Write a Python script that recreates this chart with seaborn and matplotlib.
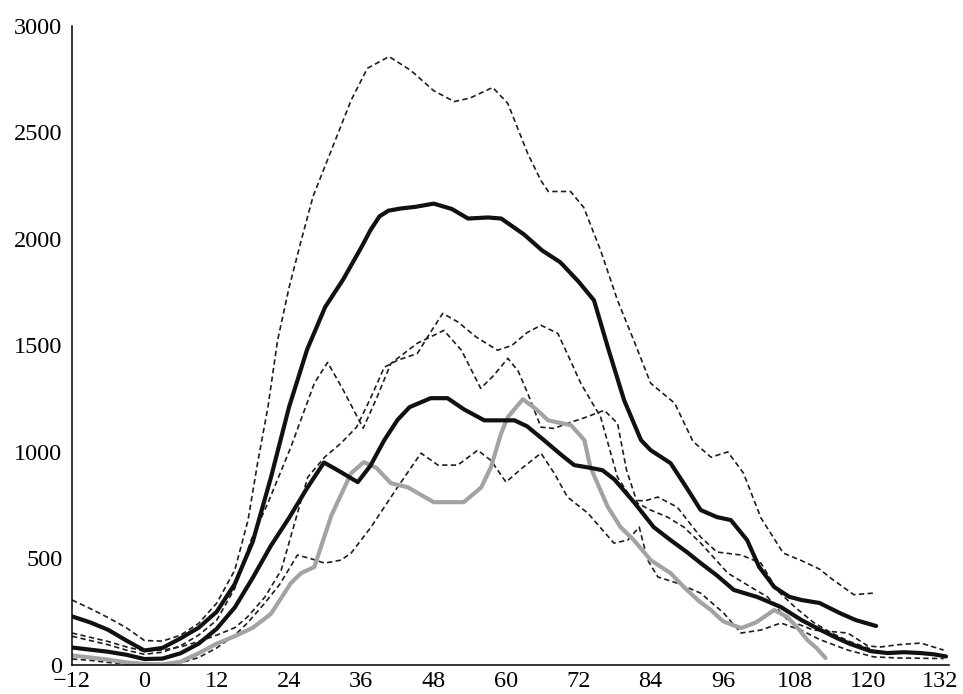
import matplotlib
matplotlib.use("Agg")
import matplotlib.pyplot as plt
import seaborn as sns

# ---- data ----
# big curve: upper band (dashed), mean (thick black), lower band (dashed)
big_upper_x = [-12, -9, -6, -3, 0, 3, 6, 9, 12, 15, 17.2, 18.8, 20.5, 22.1, 24, 26, 28, 31,
               34.3, 37, 40.6, 44.2, 48, 51.4, 54, 57.8, 60.3, 63.6, 65.8, 67, 70.7, 72.9,
               75.7, 78.5, 81.2, 84, 88, 91, 94, 96.8, 99.4, 102.3, 106, 109, 112, 114,
               117.7, 121.3]
big_upper_y = [305, 265, 222, 175, 115, 112, 140, 195, 290, 445, 680, 950, 1210, 1523, 1770,
               1990, 2200, 2414, 2650, 2800, 2855, 2790, 2695, 2644, 2660, 2710, 2635, 2400,
               2273, 2222, 2222, 2147, 1945, 1711, 1523, 1322, 1228, 1050, 975, 1000, 900,
               690, 525, 490, 450, 405, 330, 338]

big_mean_x = [-12, -9, -6, -3, 0, 3, 6, 9, 12, 15, 18, 21, 24, 27, 30, 33, 36, 37.5, 39, 40.5,
              42.5, 45, 48, 51, 53.7, 57, 59.2, 63, 66, 69, 72, 74.6, 76.9, 79.6, 82.4, 84,
              87.3, 90, 92.3, 95, 97.3, 100, 102, 104.5, 107, 109, 112, 115.5, 118, 121.4]
big_mean_y = [228, 200, 165, 115, 68, 80, 125, 175, 250, 380, 580, 880, 1210, 1480, 1680,
              1810, 1960, 2040, 2105, 2132, 2142, 2150, 2165, 2140, 2095, 2100, 2095, 2020,
              1945, 1890, 1800, 1711, 1490, 1242, 1055, 1008, 947, 830, 727, 694, 680, 586,
              460, 366, 320, 305, 291, 242, 211, 183]

big_lower_x = [-12, -9, -6, -3, 0, 3, 6, 9, 12, 15, 17.1, 20, 22.7, 25.4, 27.1, 29.9, 32.6,
               35.2, 37.5, 39.8, 42, 45.3, 47, 49.5, 52, 55, 58.6, 61, 63.5, 65.8, 68.6, 70.5,
               72.4, 75.7, 78.5, 81, 83, 85.2, 88.4, 92.3, 95, 99, 102.3, 105, 108, 111, 114,
               117, 121]
big_lower_y = [150, 130, 110, 85, 65, 70, 85, 110, 140, 175, 225, 319, 445, 712, 881, 975,
               1040, 1116, 1250, 1397, 1430, 1462, 1540, 1650, 1610, 1540, 1477, 1500, 1560,
               1594, 1556, 1440, 1322, 1163, 881, 773, 770, 788, 741, 600, 530, 516, 478, 350,
               270, 200, 150, 110, 70]

# medium curve: upper band, mean, lower band
mid_upper_x = [-12, -9, -6, -3, 0, 3, 6, 9, 12, 15, 17.7, 20.5, 24.3, 28.2, 30.4, 33, 36.3,
               38.5, 40.9, 45.3, 49.7, 52.6, 55.8, 58, 60.3, 62, 63.6, 65.8, 68, 70.2, 73,
               76.3, 78.5, 80, 81.8, 84, 86.8, 89.5, 92.3, 96.8, 100.6, 103.4, 106.7, 111,
               116.7, 120, 122, 125, 128.8, 132.6]
mid_upper_y = [135, 115, 95, 70, 50, 60, 90, 140, 210, 360, 586, 760, 1022, 1322, 1420, 1290,
               1111, 1250, 1415, 1510, 1570, 1477, 1298, 1360, 1439, 1380, 1275, 1116, 1110,
               1134, 1160, 1195, 1134, 914, 759, 727, 694, 647, 572, 431, 366, 319, 211, 164,
               150, 90, 84, 95, 103, 70]

mid_mean_x = [-12, -9, -6, -3, 0, 3, 6, 9, 12, 15, 18, 21, 24, 27, 29.8, 32, 35.4, 37.5, 39.8,
              42, 44, 47.5, 50.3, 53, 56.4, 59, 61.4, 63.5, 66.3, 69, 71.3, 74, 76, 78, 81.2,
              84.5, 87.3, 90, 92.3, 95, 97.8, 101.7, 105.6, 109, 112.2, 115, 117, 120.5,
              123.3, 126, 128.8, 131, 133]
mid_mean_y = [82, 72, 62, 48, 28, 30, 55, 100, 170, 270, 410, 560, 690, 830, 950, 915, 858,
              935, 1055, 1150, 1210, 1252, 1252, 1200, 1148, 1148, 1148, 1120, 1055, 990, 938,
              925, 914, 870, 765, 647, 586, 530, 478, 420, 352, 319, 272, 211, 164, 125, 100,
              65, 56, 60, 56, 50, 40]

mid_lower_x = [-12, -9, -6, -3, 0, 3, 6, 9, 12, 15, 17.1, 20, 22.5, 25.4, 27.5, 29.9, 32.6,
               34.3, 37.6, 42, 45.9, 48.7, 52, 55.3, 57.5, 60, 62.5, 65.8, 68, 70.2, 73.6,
               77.9, 80.2, 82.1, 83.5, 85.2, 88.4, 92.3, 96.1, 99, 102.3, 105.6, 108.9, 112,
               116.7, 121, 125, 132.6]
mid_lower_y = [28, 22, 12, 5, 2, 2, 10, 35, 80, 140, 197, 291, 380, 516, 500, 478, 492, 525,
               647, 834, 994, 938, 938, 1008, 960, 858, 920, 994, 900, 788, 712, 572, 586, 647,
               492, 413, 384, 337, 244, 150, 164, 197, 164, 120, 70, 38, 33, 30]

# gray curve
gray_x = [-12, -9, -6, -3, 0, 3, 6, 9, 12, 15, 18, 21, 24.3, 26, 28.2, 31, 34.3, 36.4, 38.5,
          40.9, 43.7, 48, 53, 55.9, 57.5, 59.2, 60.3, 62.8, 65, 67, 70.8, 73, 74, 76.9, 79,
          81.2, 84, 87.3, 89.5, 92, 94, 96, 99, 101.5, 104.5, 106.7, 108.5, 110, 111.5, 113]
gray_y = [45, 35, 25, 12, 5, 3, 15, 55, 100, 135, 175, 240, 384, 431, 460, 700, 900, 952, 925,
          853, 834, 764, 764, 834, 928, 1088, 1163, 1247, 1200, 1148, 1125, 1055, 928, 741,
          647, 586, 492, 431, 366, 300, 258, 205, 173, 200, 258, 225, 170, 117, 80, 33]

X_TICKS = [-12, 0, 12, 24, 36, 48, 60, 72, 84, 96, 108, 120, 132]
Y_TICKS = [0, 500, 1000, 1500, 2000, 2500, 3000]

# ---- style ----
sns.set_theme(style="white")
plt.rcParams["font.family"] = ["Liberation Serif", "DejaVu Serif"]
plt.rcParams["axes.unicode_minus"] = True

fig = plt.figure(figsize=(9.63, 6.94), dpi=100)
ax = fig.add_axes([0.0748, 0.0418, 0.9107, 0.9212])

dash = dict(color="#1e1e1e", lw=1.2, linestyle=(0, (3.2, 2.0)),
            dash_capstyle="butt", dash_joinstyle="round")
thick = dict(color="#111111", lw=3.0, solid_joinstyle="round", solid_capstyle="round")
grey = dict(color="#a3a3a3", lw=3.0, solid_joinstyle="round", solid_capstyle="round")

for xs, ys, st in [
    (big_upper_x, big_upper_y, dash),
    (big_lower_x, big_lower_y, dash),
    (mid_upper_x, mid_upper_y, dash),
    (mid_lower_x, mid_lower_y, dash),
    (gray_x, gray_y, grey),
    (big_mean_x, big_mean_y, thick),
    (mid_mean_x, mid_mean_y, thick),
]:
    sns.lineplot(x=xs, y=ys, ax=ax, legend=False, **st)

ax.set_xlim(-12, 133.5)
ax.set_ylim(0, 3000)
ax.set_xticks(X_TICKS)
ax.set_yticks(Y_TICKS)
ax.set_xlabel("")
ax.set_ylabel("")

for s in ("top", "right"):
    ax.spines[s].set_visible(False)
for s in ("left", "bottom"):
    ax.spines[s].set_color("black")
    ax.spines[s].set_linewidth(1.1)

ax.tick_params(axis="both", direction="in", length=6.5, width=1.0,
               colors="black", labelsize=17.5)
ax.tick_params(axis="y", pad=7)
ax.tick_params(axis="x", pad=4.5)
ax.grid(False)

fig.savefig("out.png", dpi=100)
